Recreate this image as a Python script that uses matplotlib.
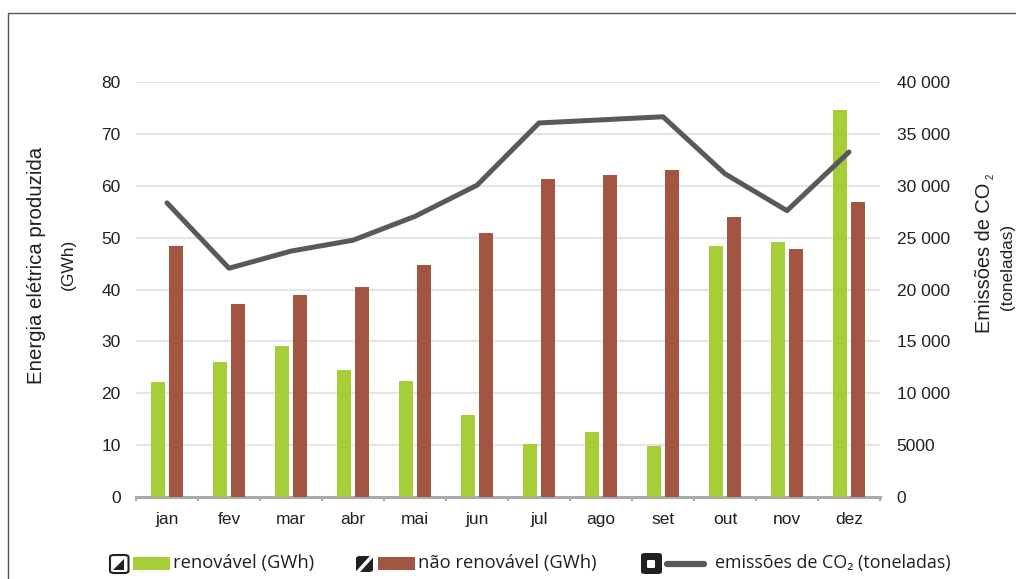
import matplotlib
matplotlib.use('Agg')
import numpy as np
import matplotlib.pyplot as plt
from matplotlib.lines import Line2D
from matplotlib.patches import FancyBboxPatch, Polygon, Rectangle

plt.rcParams['font.family'] = ['Liberation Sans', 'DejaVu Sans']

# Data
meses = ['jan', 'fev', 'mar', 'abr', 'mai', 'jun', 'jul', 'ago', 'set', 'out', 'nov', 'dez']
renovavel = [22.2, 26.1, 29.1, 24.4, 22.4, 15.9, 10.2, 12.6, 9.8, 48.3, 49.2, 74.6]
nao_renovavel = [48.3, 37.2, 39.0, 40.4, 44.8, 50.8, 61.3, 62.1, 63.0, 54.0, 47.9, 56.9]
emissoes = [28350, 22050, 23700, 24750, 27050, 30050, 36050, 36350, 36650, 31150, 27600, 33250]
ticks_esq = [0, 10, 20, 30, 40, 50, 60, 70, 80]
ticks_dir = [0, 5000, 10000, 15000, 20000, 25000, 30000, 35000, 40000]
labels_dir = ['0', '5000', '10 000', '15 000', '20 000', '25 000', '30 000', '35 000', '40 000']

W, H = 1016, 579
verde = '#A6CE39'
castanho = '#A25641'
cinza = '#58595B'
texto = '#231F20'


def fx(px):
    return px / W


def fy(py):
    return 1 - py / H


fig = plt.figure(figsize=(W / 100, H / 100), dpi=100)

# moldura
fig.add_artist(Line2D([fx(7.5), fx(7.5), 1], [0, fy(12.5), fy(12.5)], color='#58595B', lw=1))

ax = fig.add_axes([fx(136), fy(497), fx(880 - 136), (497 - 82) / H])
ax2 = ax.twinx()

x = np.arange(len(meses))
ax.bar(x - 0.15, renovavel, width=0.225, color=verde, zorder=3)
ax.bar(x + 0.14, nao_renovavel, width=0.225, color=castanho, zorder=3)
ax2.plot(x, emissoes, color=cinza, lw=3.6, solid_capstyle='round', solid_joinstyle='round', zorder=5)

ax.set_xlim(-0.5, 11.5)
ax.set_ylim(0, 80)
ax2.set_ylim(0, 40000)
ax.set_xticks(x)
ax.set_xticklabels(meses, fontsize=12.5, color=texto)
ax.set_yticks(ticks_esq)
ax.set_yticklabels([str(t) for t in ticks_esq], fontsize=12.5, color=texto)
ax2.set_yticks(ticks_dir)
ax2.set_yticklabels(labels_dir, fontsize=12.5, color=texto)
ax.grid(axis='y', color='#E3E4E5', lw=1.5, zorder=0)
ax.set_axisbelow(True)
ax.tick_params(axis='y', length=0, pad=11)
ax2.tick_params(axis='y', length=0, pad=12)
ax.tick_params(axis='x', length=0, pad=11)
for a in (ax, ax2):
    for s in ['top', 'left', 'right', 'bottom']:
        a.spines[s].set_visible(False)
ax.spines['bottom'].set_visible(True)
ax.spines['bottom'].set_color('#A7A9AC')
ax.spines['bottom'].set_linewidth(2.2)
ax.set_xticks(np.arange(-0.5, 12), minor=True)
ax.tick_params(axis='x', which='minor', length=3, width=1.4, color='#A7A9AC', direction='out')
ax.set_zorder(ax2.get_zorder() - 1)
ax2.patch.set_visible(False)

# titulos dos eixos
fig.text(fx(37), fy(265), 'Energia elétrica produzida', rotation=90, fontsize=14.7,
         color=texto, ha='center', va='center')
fig.text(fx(68), fy(264), '(GWh)', rotation=90, fontsize=12.5, color=texto, ha='center', va='center')
fig.text(fx(985), fy(258), 'Emissões de CO', rotation=90, fontsize=14.4, color=texto, ha='center', va='center')
fig.text(fx(991), fy(176), '2', rotation=90, fontsize=7, color=texto, ha='center', va='center')
fig.text(fx(1008), fy(267), '(toneladas)', rotation=90, fontsize=12.3, color=texto, ha='center', va='center')


# legenda
def caixa(x0, y0, x1, y1, raio=0.004, **kw):
    fig.add_artist(FancyBboxPatch((fx(x0), fy(y1)), fx(x1 - x0), (y1 - y0) / H,
                                  boxstyle=f'round,pad=0,rounding_size={raio}',
                                  transform=fig.transFigure, **kw))


# icone renovavel
caixa(110, 555, 128.5, 573, fc='white', ec='#231F20', lw=1.5)
fig.add_artist(Polygon([(fx(113), fy(570)), (fx(124), fy(559)), (fx(124), fy(570))],
                       transform=fig.transFigure, fc='#231F20', ec='none'))
fig.add_artist(Rectangle((fx(133), fy(570)), fx(37), 13 / H, fc=verde, ec='none'))
fig.text(fx(173), fy(563), 'renovável (GWh)', fontsize=13.2, family='Open Sans', color=texto, va='center')

# icone nao renovavel
caixa(356, 556, 373, 572, fc='#231F20', ec='none')
fig.add_artist(Line2D([fx(355), fx(374)], [fy(575), fy(554)], color='white', lw=2.5))
fig.add_artist(Rectangle((fx(378), fy(570)), fx(37), 13 / H, fc=castanho, ec='none'))
fig.text(fx(418), fy(563), 'não renovável (GWh)', fontsize=13.2, family='Open Sans', color=texto, va='center')

# icone emissoes
caixa(641, 553, 662, 574, fc='#231F20', ec='none')
caixa(647, 560, 655, 568, raio=0.0015, fc='white', ec='none')
fig.add_artist(Line2D([fx(667), fx(704)], [fy(564), fy(564)], color=cinza, lw=4.5, solid_capstyle='round'))
fig.text(fx(715), fy(563), 'emissões de CO₂ (toneladas)', fontsize=12.9, family='Open Sans', color=texto, va='center')

fig.savefig('out.png', dpi=100)
